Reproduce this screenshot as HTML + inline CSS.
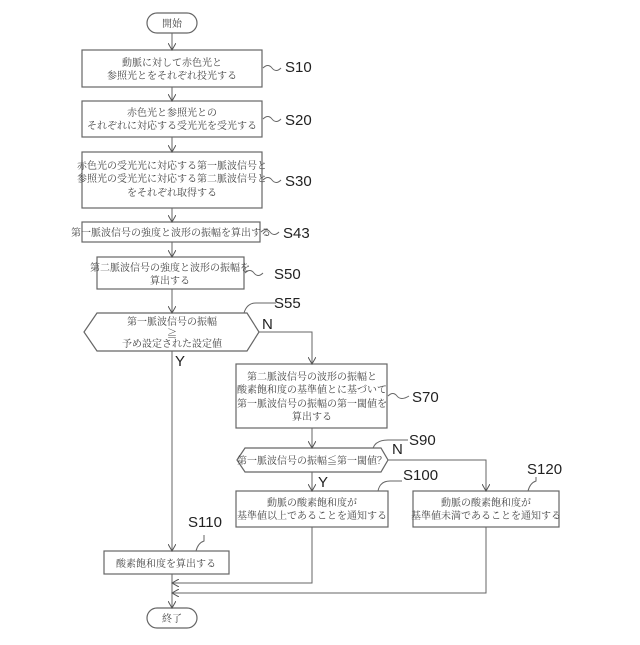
<!DOCTYPE html>
<html><head><meta charset="utf-8"><style>
html,body{margin:0;padding:0;background:#fff;}
svg text{font-family:"Liberation Serif","Noto Serif CJK SC","Noto Sans CJK JP",serif;font-size:10px;fill:#444;}
svg text.l{font-family:"Liberation Sans",sans-serif;font-size:15px;fill:#222;}
</style></head><body>
<svg width="640" height="640" viewBox="0 0 640 640" xmlns="http://www.w3.org/2000/svg">
<defs><marker id="a" markerWidth="8" markerHeight="8" refX="7" refY="4" orient="auto" markerUnits="userSpaceOnUse"><path d="M0,0 L7,4 L0,8" fill="none" stroke="#555" stroke-width="1"/></marker></defs>
<g fill="none" stroke="#666" stroke-width="1.2">
<rect x="147" y="13" width="50" height="20" rx="10"/>
<rect x="82" y="50" width="180" height="37"/>
<rect x="82" y="101" width="180" height="36"/>
<rect x="82" y="152" width="180" height="56"/>
<rect x="82" y="222" width="178" height="20"/>
<rect x="97" y="257" width="147" height="32"/>
<polygon points="84,332 97,313 247,313 259,332 247,351 97,351"/>
<rect x="236" y="364" width="151" height="64"/>
<polygon points="237,460 245,448 381,448 388,460 381,472 245,472"/>
<rect x="236" y="491" width="152" height="36"/>
<rect x="413" y="491" width="146" height="36"/>
<rect x="104" y="551" width="125" height="23"/>
<rect x="147" y="608" width="50" height="20" rx="10"/>
</g>
<g fill="none" stroke="#666" stroke-width="1" marker-end="url(#a)">
<line x1="172" y1="33" x2="172" y2="50"/>
<line x1="172" y1="87" x2="172" y2="101"/>
<line x1="172" y1="137" x2="172" y2="152"/>
<line x1="172" y1="208" x2="172" y2="222"/>
<line x1="172" y1="242" x2="172" y2="257"/>
<line x1="172" y1="289" x2="172" y2="313"/>
<line x1="172" y1="351" x2="172" y2="551"/>
<polyline points="259,332 312,332 312,364"/>
<line x1="312" y1="428" x2="312" y2="448"/>
<line x1="312" y1="472" x2="312" y2="491"/>
<polyline points="388,460 486,460 486,491"/>
<polyline points="312,527 312,583 172,583"/>
<polyline points="486,527 486,593 172,593"/>
<line x1="172" y1="574" x2="172" y2="608"/>
</g>
<g fill="none" stroke="#666" stroke-width="1">
<path d="M263,68 q5,-5 9,0 q4,5 9,0"/>
<path d="M263,119 q5,-5 9,0 q4,5 9,0"/>
<path d="M263,180 q5,-5 9,0 q4,5 9,0"/>
<path d="M261,232 q5,-5 9,0 q4,5 9,0"/>
<path d="M245,273 q5,-5 9,0 q4,5 9,0"/>
<path d="M244,313 q3,-10 12,-10 h20"/>
<path d="M388,396 q5,-5 9,0 q4,5 12,0"/>
<path d="M373,448 q3,-8 15,-8 h20"/>
<path d="M378,491 q2,-10 12,-10 h12"/>
<path d="M196,551 q2,-8 8,-10 v-6"/>
<path d="M528,491 q2,-8 8,-10 v-4"/>
</g>
<g text-anchor="middle">
<text x="172" y="27">開始</text>
<text x="172" y="66">動脈に対して赤色光と</text>
<text x="172" y="79">参照光とをそれぞれ投光する</text>
<text x="172" y="116">赤色光と参照光との</text>
<text x="172" y="129">それぞれに対応する受光光を受光する</text>
<text x="172" y="169">赤色光の受光光に対応する第一脈波信号と</text>
<text x="172" y="182">参照光の受光光に対応する第二脈波信号と</text>
<text x="172" y="196">をそれぞれ取得する</text>
<text x="171" y="236">第一脈波信号の強度と波形の振幅を算出する</text>
<text x="170" y="271">第二脈波信号の強度と波形の振幅を</text>
<text x="170" y="284">算出する</text>
<text x="172" y="325">第一脈波信号の振幅</text>
<text x="172" y="337">≧</text>
<text x="172" y="347">予め設定された設定値</text>
<text x="312" y="380">第二脈波信号の波形の振幅と</text>
<text x="312" y="393">酸素飽和度の基準値とに基づいて</text>
<text x="312" y="407">第一脈波信号の振幅の第一閾値を</text>
<text x="312" y="420">算出する</text>
<text x="312" y="464">第一脈波信号の振幅≦第一閾値？</text>
<text x="312" y="506">動脈の酸素飽和度が</text>
<text x="312" y="519">基準値以上であることを通知する</text>
<text x="486" y="506">動脈の酸素飽和度が</text>
<text x="486" y="519">基準値未満であることを通知する</text>
<text x="166" y="567">酸素飽和度を算出する</text>
<text x="172" y="622">終了</text>
</g>
<g>
<text class="l" x="285" y="72">S10</text>
<text class="l" x="285" y="125">S20</text>
<text class="l" x="285" y="186">S30</text>
<text class="l" x="283" y="238">S43</text>
<text class="l" x="274" y="279">S50</text>
<text class="l" x="274" y="308">S55</text>
<text class="l" x="262" y="329">N</text>
<text class="l" x="175" y="366">Y</text>
<text class="l" x="412" y="402">S70</text>
<text class="l" x="409" y="445">S90</text>
<text class="l" x="392" y="454">N</text>
<text class="l" x="318" y="487">Y</text>
<text class="l" x="403" y="480">S100</text>
<text class="l" x="527" y="474">S120</text>
<text class="l" x="188" y="527">S110</text>
</g>
</svg>
</body></html>
